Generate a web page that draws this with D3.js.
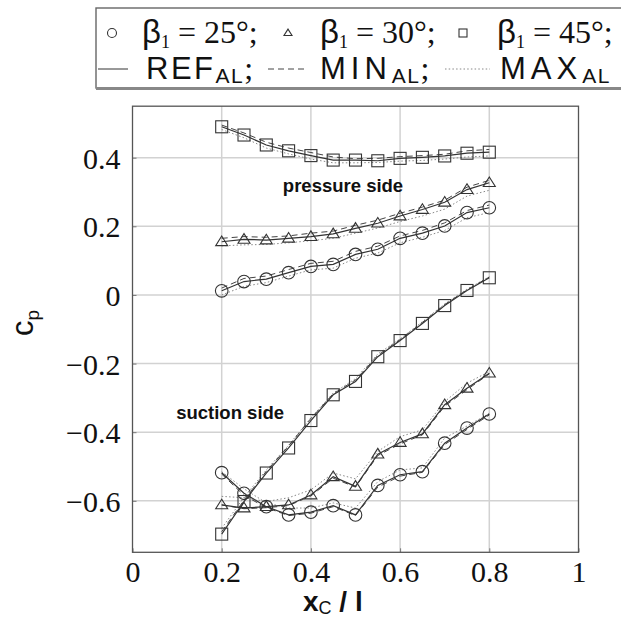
<!DOCTYPE html>
<html><head><meta charset="utf-8">
<script src="https://cdn.jsdelivr.net/npm/d3@7"></script>
<style>body{margin:0;background:#fff}svg{display:block}</style>
</head><body>
<svg id="c" width="621" height="619"></svg>
<script>
const xPos = [0.2,0.25,0.3,0.35,0.4,0.45,0.5,0.55,0.6,0.65,0.7,0.75,0.8];
const xTicks = [0,0.2,0.4,0.6,0.8,1];
const yTicks = [-0.6,-0.4,-0.2,0,0.2,0.4];
const xTickLabels = ["0","0.2","0.4","0.6","0.8","1"];
const yTickLabels = ["\u22120.6","\u22120.4","\u22120.2","0","0.2","0.4"];

// pressure side
const b25P_ref = [0.012,0.039,0.046,0.065,0.083,0.089,0.118,0.133,0.165,0.180,0.201,0.240,0.254];
const b25P_min = [0.020,0.048,0.055,0.074,0.092,0.098,0.127,0.142,0.172,0.188,0.210,0.246,0.262];
const b25P_max = [0.000,0.025,0.036,0.055,0.073,0.078,0.107,0.122,0.152,0.168,0.188,0.225,0.240];
const b30P_ref = [0.155,0.162,0.160,0.165,0.170,0.178,0.194,0.209,0.230,0.249,0.270,0.307,0.327];
const b30P_min = [0.165,0.170,0.168,0.172,0.180,0.186,0.203,0.218,0.238,0.256,0.276,0.314,0.334];
const b30P_max = [0.143,0.146,0.147,0.152,0.158,0.165,0.180,0.195,0.214,0.230,0.250,0.288,0.305];
const b45P_ref = [0.490,0.466,0.437,0.420,0.406,0.393,0.393,0.391,0.398,0.401,0.405,0.413,0.416];
const b45P_min = [0.495,0.472,0.445,0.428,0.415,0.402,0.397,0.398,0.403,0.406,0.410,0.420,0.424];
const b45P_max = [0.482,0.458,0.428,0.411,0.396,0.385,0.385,0.386,0.390,0.392,0.396,0.402,0.405];
// suction side
const b25S_ref = [-0.518,-0.578,-0.617,-0.641,-0.633,-0.614,-0.641,-0.555,-0.524,-0.515,-0.432,-0.388,-0.347];
const b25S_min = [-0.522,-0.584,-0.620,-0.643,-0.636,-0.617,-0.643,-0.560,-0.528,-0.517,-0.436,-0.392,-0.350];
const b25S_max = [-0.515,-0.565,-0.606,-0.621,-0.621,-0.606,-0.621,-0.544,-0.510,-0.504,-0.417,-0.382,-0.345];
const b30S_ref = [-0.612,-0.621,-0.617,-0.612,-0.583,-0.530,-0.558,-0.464,-0.430,-0.405,-0.320,-0.272,-0.228];
const b30S_min = [-0.612,-0.623,-0.620,-0.614,-0.586,-0.534,-0.560,-0.468,-0.434,-0.408,-0.324,-0.276,-0.230];
const b30S_max = [-0.587,-0.591,-0.602,-0.591,-0.568,-0.519,-0.536,-0.456,-0.413,-0.393,-0.311,-0.257,-0.223];
const b45S_ref = [-0.697,-0.602,-0.519,-0.446,-0.366,-0.291,-0.252,-0.180,-0.133,-0.083,-0.031,0.013,0.050];
const b45S_min = [-0.690,-0.598,-0.514,-0.440,-0.360,-0.288,-0.248,-0.176,-0.130,-0.080,-0.028,0.015,0.052];
const b45S_max = [-0.680,-0.590,-0.510,-0.438,-0.358,-0.286,-0.244,-0.172,-0.128,-0.078,-0.026,0.017,0.053];

const series = [
  {marker:"circle", ref:b25P_ref, min:b25P_min, max:b25P_max},
  {marker:"triangle", ref:b30P_ref, min:b30P_min, max:b30P_max},
  {marker:"square", ref:b45P_ref, min:b45P_min, max:b45P_max},
  {marker:"circle", ref:b25S_ref, min:b25S_min, max:b25S_max},
  {marker:"triangle", ref:b30S_ref, min:b30S_min, max:b30S_max},
  {marker:"square", ref:b45S_ref, min:b45S_min, max:b45S_max}
];

const svg = d3.select("#c");
const L = 132.5, R = 578.5, T = 106.2, B = 552.3;
const x = d3.scaleLinear().domain([0,1]).range([L,R]);
const y = d3.scaleLinear().domain([-0.75,0.55]).range([B,T]);
const serif = "'Liberation Serif', 'Times New Roman', serif";
const sans = "'Liberation Sans', Arial, sans-serif";

// grid
const g = svg.append("g");
g.selectAll(".gx").data(xTicks.slice(1,-1)).enter().append("line")
  .attr("x1",d=>x(d)).attr("x2",d=>x(d)).attr("y1",T).attr("y2",B)
  .attr("stroke","#d2d2d2").attr("stroke-width",1.5);
g.selectAll(".gy").data(yTicks).enter().append("line")
  .attr("y1",d=>y(d)).attr("y2",d=>y(d)).attr("x1",L).attr("x2",R)
  .attr("stroke","#d2d2d2").attr("stroke-width",1.5);

// axes via d3
const xAxis = d3.axisBottom(x).tickValues(xTicks).tickFormat((d,i)=>xTickLabels[i]).tickSize(-4).tickPadding(8);
const yAxis = d3.axisLeft(y).tickValues(yTicks).tickFormat((d,i)=>yTickLabels[i]).tickSize(-4).tickPadding(12);
const gx = svg.append("g").attr("transform",`translate(0,${B})`).call(xAxis);
const gy = svg.append("g").attr("transform",`translate(${L},0)`).call(yAxis);
[gx,gy].forEach(a=>{
  a.select(".domain").remove();
  a.selectAll(".tick line").attr("stroke","#777").attr("stroke-width",1);
  a.selectAll("text").attr("font-family",serif).attr("font-size",30).attr("fill","#111");
});
gx.selectAll("text").attr("dy","0.72em");
gy.selectAll("text").attr("dy","0.35em");

// frame
svg.append("rect").attr("x",L).attr("y",T).attr("width",R-L).attr("height",B-T)
  .attr("fill","none").attr("stroke","#555").attr("stroke-width",1.3);

// lines
const line = d3.line().x((d,i)=>x(xPos[i])).y(d=>y(d));
const styles = {
  ref:{dash:null, w:1.2, c:"#333"},
  min:{dash:"6,4", w:1.0, c:"#444"},
  max:{dash:"1.5,2.2", w:1.0, c:"#888"}
};
series.forEach(s=>{
  ["max","min","ref"].forEach(k=>{
    svg.append("path").attr("d",line(s[k])).attr("fill","none")
      .attr("stroke",styles[k].c).attr("stroke-width",styles[k].w)
      .attr("stroke-dasharray",styles[k].dash);
  });
});
function drawMarker(sel, type, cx, cy, size){
  if(type==="circle"){
    sel.append("circle").attr("cx",cx).attr("cy",cy).attr("r",size)
      .attr("fill","none").attr("stroke","#333").attr("stroke-width",1.1);
  } else if(type==="square"){
    sel.append("rect").attr("x",cx-size).attr("y",cy-size).attr("width",2*size).attr("height",2*size)
      .attr("fill","none").attr("stroke","#333").attr("stroke-width",1.1);
  } else {
    const h=size*1.6;
    sel.append("path").attr("d",`M${cx-size},${cy+h*0.4}L${cx+size},${cy+h*0.4}L${cx},${cy-h*0.6}Z`)
      .attr("fill","none").attr("stroke","#333").attr("stroke-width",1.1);
  }
}
series.forEach(s=>{
  const sz = s.marker==="circle"?6.3:6;
  s.ref.forEach((v,i)=>drawMarker(svg, s.marker, x(xPos[i]), y(v), sz));
});

// annotations
svg.append("text").attr("x",x(0.472)).attr("y",y(0.30)).attr("text-anchor","middle")
  .attr("font-family",sans).attr("font-weight","bold").attr("font-size",18.5).attr("fill","#111")
  .text("pressure side");
svg.append("text").attr("x",x(0.219)).attr("y",y(-0.361)).attr("text-anchor","middle")
  .attr("font-family",sans).attr("font-weight","bold").attr("font-size",18.5).attr("fill","#111")
  .text("suction side");

// axis titles
const xl = svg.append("text").attr("x",303).attr("y",611).attr("text-anchor","start")
  .attr("font-family",sans).attr("font-weight","bold").attr("font-size",28).attr("fill","#111");
xl.append("tspan").text("x");
xl.append("tspan").attr("font-size",18).attr("font-weight","normal").attr("dy",3).text("C");
xl.append("tspan").attr("dy",-3).text(" / l");
const yl = svg.append("text").attr("transform","translate(33,323) rotate(-90)").attr("text-anchor","middle")
  .attr("font-family",sans).attr("font-size",31).attr("fill","#111");
yl.append("tspan").text("c");
yl.append("tspan").attr("font-size",19).attr("dy",6).text("p");

// legend
const lg = svg.append("g");
lg.append("rect").attr("x",96).attr("y",8).attr("width",540).attr("height",80)
  .attr("fill","#fff").attr("stroke","#666").attr("stroke-width",1.4);
lg.append("line").attr("x1",96).attr("x2",625).attr("y1",88.5).attr("y2",88.5)
  .attr("stroke","#888").attr("stroke-width",3);
const row1 = 43, row2 = 79;
const entries = [
  {m:"circle", mx:112, tx:142, v:"25"},
  {m:"triangle", mx:288, tx:320, v:"30"},
  {m:"square", mx:463, tx:497, v:"45"}
];
entries.forEach(e=>{
  drawMarker(lg, e.m, e.mx, row1-10, e.m==="circle"?4.5:4);
  const t = lg.append("text").attr("x",e.tx).attr("y",row1).attr("font-family",serif).attr("font-size",32).attr("fill","#111");
  t.append("tspan").attr("font-family",sans).attr("font-size",33).text("\u03b2");
  t.append("tspan").attr("font-size",18).attr("dy",5).text("1");
  t.append("tspan").attr("dy",-5).text(" = "+e.v+"\u00b0;");
});
const lentries = [
  {k:"ref", x1:92, x2:128, tx:146, name:"REF"},
  {k:"min", x1:268, x2:308, tx:320, name:"MIN"},
  {k:"max", x1:445, x2:490, tx:500, name:"MAX"}
];
lentries.forEach((e,i)=>{
  lg.append("line").attr("x1",Math.max(e.x1,98)).attr("x2",e.x2).attr("y1",row2-10).attr("y2",row2-10)
    .attr("stroke",styles[e.k].c).attr("stroke-width",1).attr("stroke-dasharray",styles[e.k].dash);
  const t = lg.append("text").attr("x",e.tx).attr("y",row2).attr("font-family",sans).attr("font-size",31).attr("fill","#111");
  t.append("tspan").attr("letter-spacing",i===0?2.5:5).text(e.name);
  t.append("tspan").attr("font-size",21).attr("dy",4).attr("letter-spacing",1.5).text("AL");
  if(i<2) t.append("tspan").attr("dy",-4).attr("font-family",serif).attr("font-size",32).text(";");
});
</script>
</body></html>
